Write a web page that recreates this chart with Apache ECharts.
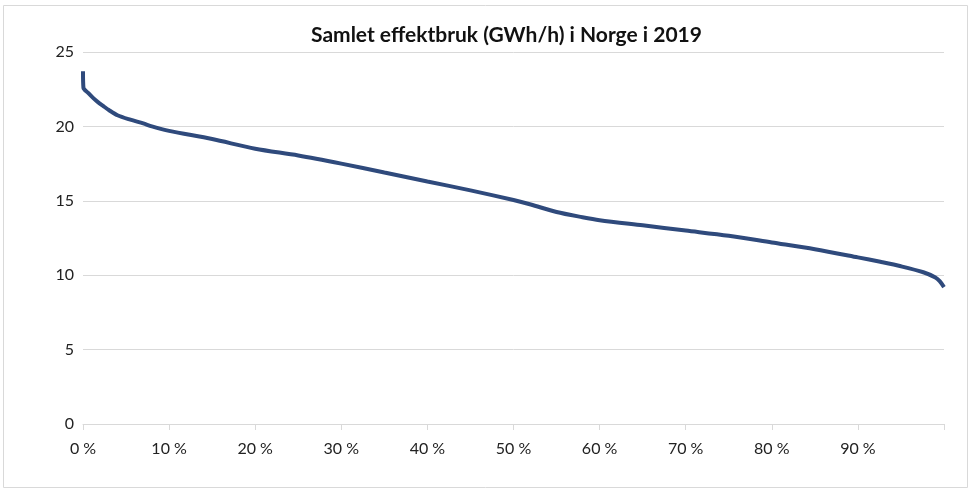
<!DOCTYPE html>
<html>
<head>
<meta charset="utf-8">
<script src="https://cdn.jsdelivr.net/npm/echarts@6/dist/echarts.min.js"></script>
<style>
  html, body { margin: 0; padding: 0; background: #fff; }
  #chart { width: 972px; height: 493px; }
</style>
</head>
<body>
<div id="chart"></div>
<script>
// share of hours in the year (%), sorted by load
const shareOfHours = [0, 0.05, 0.6, 1.2, 1.7, 2.4, 3, 4, 5.5, 7, 8, 10, 15, 20, 25, 30, 35, 40, 45, 50, 52, 55, 58, 60, 65, 70, 75, 80, 85, 90, 92.6, 95, 97.6, 99, 99.5, 100]
// GWh/h
const load = [23.7, 22.6, 22.25, 21.9, 21.65, 21.35, 21.1, 20.75, 20.45, 20.2, 20.0, 19.7, 19.15, 18.5, 18.05, 17.5, 16.9, 16.3, 15.7, 15.05, 14.75, 14.25, 13.9, 13.7, 13.35, 13.0, 12.65, 12.2, 11.75, 11.2, 10.9, 10.6, 10.2, 9.85, 9.6, 9.2]

const chart = echarts.init(document.getElementById('chart'))

const labelFont = { fontFamily: 'Lato', fontSize: 16, color: '#222' }

chart.setOption({
    animation: false,
    title: {
        text: 'Samlet effektbruk (GWh/h) i Norge i 2019',
        left: 306,
        top: 20,
        textStyle: { fontFamily: 'Lato', fontWeight: 'bold', fontSize: 21, color: '#111' }
    },
    grid: { left: 83, right: 28, top: 52, bottom: 69 },
    xAxis: {
        type: 'value',
        min: 0,
        max: 100,
        interval: 10,
        axisLine: { lineStyle: { color: '#d9d9d9' } },
        axisTick: { show: true, length: 6, lineStyle: { color: '#d9d9d9' } },
        splitLine: { show: false },
        axisLabel: {
            ...labelFont,
            margin: 17,
            formatter: v => v === 100 ? '' : v + ' %'
        }
    },
    yAxis: {
        type: 'value',
        min: 0,
        max: 25,
        interval: 5,
        axisLine: { show: false },
        axisTick: { show: false },
        splitLine: { lineStyle: { color: '#d9d9d9' } },
        axisLabel: { ...labelFont, margin: 9 }
    },
    series: [{
        type: 'line',
        smooth: 0.3,
        showSymbol: false,
        data: shareOfHours.map((x, i) => [x, load[i]]),
        lineStyle: { color: '#2f4a7c', width: 4 }
    }],
    graphic: [{
        type: 'rect',
        shape: { x: 3.5, y: 5.5, width: 964, height: 482 },
        style: { fill: 'none', stroke: '#d9d9d9', lineWidth: 1 }
    }]
})
</script>
</body>
</html>
